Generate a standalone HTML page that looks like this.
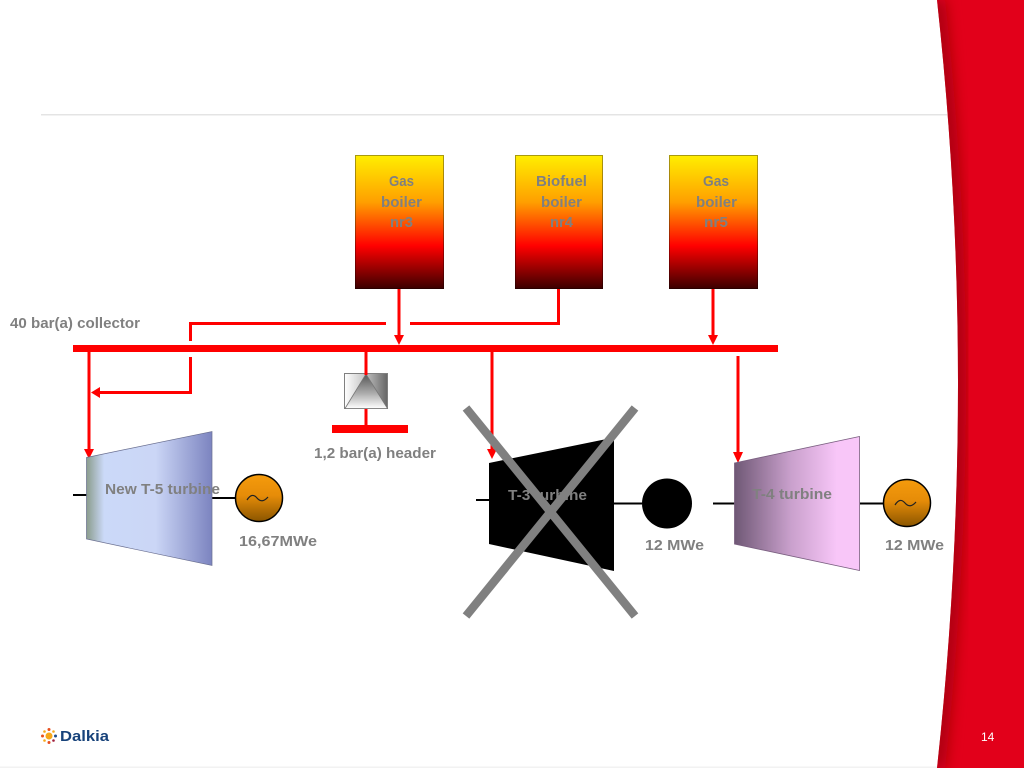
<!DOCTYPE html>
<html lang="en">
<head>
<meta charset="utf-8">
<title>Steam system diagram</title>
<style>
html,body{margin:0;padding:0;background:#fff;width:1024px;height:768px;overflow:hidden}
svg{display:block}
text{font-family:"Liberation Sans",Arial,sans-serif;font-weight:bold;font-size:15px;fill:#808080}
</style>
</head>
<body>
<svg width="1024" height="768" viewBox="0 0 1024 768" xmlns="http://www.w3.org/2000/svg">
<defs>
<linearGradient id="boiler" x1="0" y1="0" x2="0" y2="1">
<stop offset="0" stop-color="#ffee00"/>
<stop offset=".35" stop-color="#ff9f00"/>
<stop offset=".68" stop-color="#ff0000"/>
<stop offset="1" stop-color="#3c0000"/>
</linearGradient>
<linearGradient id="boilerS" x1="0" y1="0" x2="0" y2="1">
<stop offset="0" stop-color="#a89a10"/>
<stop offset=".4" stop-color="#a86a00"/>
<stop offset=".7" stop-color="#a00000"/>
<stop offset="1" stop-color="#2a0000"/>
</linearGradient>
<linearGradient id="t5" x1="0" y1="0" x2="1" y2="0">
<stop offset="0" stop-color="#8a9c8c"/>
<stop offset=".14" stop-color="#cbd9f8"/>
<stop offset=".55" stop-color="#cbd6f6"/>
<stop offset="1" stop-color="#7c84c0"/>
</linearGradient>
<linearGradient id="t4" x1="0" y1="0" x2="1" y2="0">
<stop offset="0" stop-color="#6f5875"/>
<stop offset=".45" stop-color="#c9a0cc"/>
<stop offset=".82" stop-color="#f8c6f8"/>
<stop offset="1" stop-color="#f8c6f8"/>
</linearGradient>
<linearGradient id="gen" x1="0" y1="0" x2="0" y2="1">
<stop offset="0" stop-color="#f59b0c"/>
<stop offset=".45" stop-color="#e68c08"/>
<stop offset="1" stop-color="#8a5500"/>
</linearGradient>
<linearGradient id="vb" x1="0" y1="0" x2="1" y2="0">
<stop offset="0" stop-color="#ffffff"/>
<stop offset=".45" stop-color="#c8c8c8"/>
<stop offset="1" stop-color="#666666"/>
</linearGradient>
<linearGradient id="vt" x1="0" y1="0" x2="0" y2="1">
<stop offset="0" stop-color="#555555"/>
<stop offset=".55" stop-color="#aaaaaa"/>
<stop offset="1" stop-color="#ffffff"/>
</linearGradient>
<clipPath id="bandClip"><path d="M937 0 Q979 384 937 768 L1024 768 L1024 0 Z"/></clipPath>
<filter id="soft" x="-50%" y="-5%" width="200%" height="110%"><feGaussianBlur stdDeviation="7"/></filter>
</defs>

<!-- red band -->
<path d="M937 0 Q979 384 937 768 L1024 768 L1024 0 Z" fill="#e2001a"/>
<g clip-path="url(#bandClip)">
<path d="M937 0 Q979 384 937 768" fill="none" stroke="#a8000f" stroke-width="16" filter="url(#soft)"/>
</g>
<rect x="41" y="114" width="906" height="1.5" fill="#e4e4e4"/>
<rect x="0" y="766.5" width="937" height="1.5" fill="#f2f2f2"/>
<text x="981" y="741" style="font-weight:normal;font-size:12px;fill:#fff">14</text>

<!-- boilers -->
<rect x="355.500" y="155.500" width="88" height="133" fill="url(#boiler)" stroke="url(#boilerS)" stroke-width="1"/>
<rect x="515.500" y="155.500" width="87" height="133" fill="url(#boiler)" stroke="url(#boilerS)" stroke-width="1"/>
<rect x="669.500" y="155.500" width="88" height="133" fill="url(#boiler)" stroke="url(#boilerS)" stroke-width="1"/>
<text x="389" y="186" textLength="25" lengthAdjust="spacingAndGlyphs">Gas</text>
<text x="381" y="207" textLength="41" lengthAdjust="spacingAndGlyphs">boiler</text>
<text x="390" y="227" textLength="23" lengthAdjust="spacingAndGlyphs">nr3</text>
<text x="536" y="186" textLength="51" lengthAdjust="spacingAndGlyphs">Biofuel</text>
<text x="541" y="207" textLength="41" lengthAdjust="spacingAndGlyphs">boiler</text>
<text x="550" y="227" textLength="23" lengthAdjust="spacingAndGlyphs">nr4</text>
<text x="703" y="186" textLength="26" lengthAdjust="spacingAndGlyphs">Gas</text>
<text x="696" y="207" textLength="41" lengthAdjust="spacingAndGlyphs">boiler</text>
<text x="704" y="227" textLength="24" lengthAdjust="spacingAndGlyphs">nr5</text>

<!-- steam network -->
<g fill="none" stroke="#ff0000" stroke-width="3">
<path d="M399 289V336"/>
<path d="M713 289V336"/>
<path d="M558.500 289V323.500H410"/>
<path d="M386 323.500H190.500V341"/>
<path d="M190.500 357V392.500H99"/>
<path d="M89 352V449"/>
<path d="M492 352V449"/>
<path d="M738 356V452"/>
<path d="M366 352V375"/>
<path d="M366 408V426"/>
</g>
<rect x="73" y="345" width="705" height="7" fill="#ff0000"/>
<rect x="332" y="425" width="76" height="8" fill="#ff0000"/>
<g fill="#ff0000">
<path d="M394 335H404L399 345Z"/>
<path d="M708 335H718L713 345Z"/>
<path d="M100 387V398L91 392.500Z"/>
<path d="M84 449H94L89 459Z"/>
<path d="M487 449H497L492 459Z"/>
<path d="M733 452H743L738 463Z"/>
</g>

<!-- valve -->
<rect x="344.500" y="373.500" width="43" height="35" fill="url(#vb)" stroke="#808080"/>
<path d="M345 408.500L366 374L387.500 408.500Z" fill="url(#vt)" stroke="#777" stroke-width=".8"/>
<path d="M366 366V375" stroke="#ff0000" stroke-width="3"/>

<!-- shafts -->
<g stroke="#000" stroke-width="2" fill="none">
<path d="M73 495H87"/>
<path d="M212 498H236"/>
<path d="M476 500H490"/>
<path d="M614 503.500H642"/>
<path d="M713 503.500H735"/>
<path d="M860 503.500H884"/>
</g>

<!-- turbines -->
<path d="M86.500 457.500L212 431.500V565.500L86.500 539Z" fill="url(#t5)" stroke="#6a6f90" stroke-width=".7"/>
<path d="M489 463L614 437.500V571L489 544Z" fill="#000"/>
<path d="M734.500 463L859.500 436.500V570.500L734.500 544Z" fill="url(#t4)" stroke="#7a5f80" stroke-width=".8"/>

<!-- generators -->
<circle cx="259" cy="498" r="23.500" fill="url(#gen)" stroke="#000" stroke-width="1.500"/>
<path d="M247 500Q252 492 257 498T268 497" fill="none" stroke="#222" stroke-width="1.200"/>
<circle cx="667" cy="503.500" r="25" fill="#000"/>
<circle cx="907" cy="503" r="23.500" fill="url(#gen)" stroke="#000" stroke-width="1.500"/>
<path d="M895 505Q900 497 905 503T916 502" fill="none" stroke="#222" stroke-width="1.200"/>

<!-- labels -->
<text x="10" y="328" textLength="130" lengthAdjust="spacingAndGlyphs">40 bar(a) collector</text>
<text x="314" y="458" textLength="122" lengthAdjust="spacingAndGlyphs">1,2 bar(a) header</text>
<text x="105" y="494" textLength="115" lengthAdjust="spacingAndGlyphs">New T-5 turbine</text>
<text x="239" y="546" textLength="78" lengthAdjust="spacingAndGlyphs">16,67MWe</text>
<text x="508" y="500" textLength="79" lengthAdjust="spacingAndGlyphs">T-3 turbine</text>
<text x="752" y="499" textLength="80" lengthAdjust="spacingAndGlyphs">T-4 turbine</text>
<text x="645" y="550" textLength="59" lengthAdjust="spacingAndGlyphs">12 MWe</text>
<text x="885" y="550" textLength="59" lengthAdjust="spacingAndGlyphs">12 MWe</text>

<!-- cross -->
<g stroke="#808080" stroke-width="8.500" fill="none">
<path d="M466 408L635 616"/>
<path d="M635 408L466 616"/>
</g>

<!-- logo -->
<g fill="#e8501e">
<circle cx="49" cy="736" r="3.500" fill="#f7a81b"/>
<circle cx="49" cy="729.500" r="1.500"/>
<circle cx="49" cy="742.500" r="1.500"/>
<circle cx="42.500" cy="736" r="1.500"/>
<circle cx="55.500" cy="736" r="1.500" fill="#1f4e8c"/>
<circle cx="44.500" cy="731.500" r="1.300" fill="#f7a81b"/>
<circle cx="53.500" cy="731.500" r="1.300" fill="#f7a81b"/>
<circle cx="44.500" cy="740.500" r="1.300" fill="#f7a81b"/>
<circle cx="53.500" cy="740.500" r="1.300" fill="#a0203c"/>
</g>
<text x="60" y="741" textLength="49" lengthAdjust="spacingAndGlyphs" style="font-size:15px;fill:#17427a">Dalkia</text>
</svg>
</body>
</html>
